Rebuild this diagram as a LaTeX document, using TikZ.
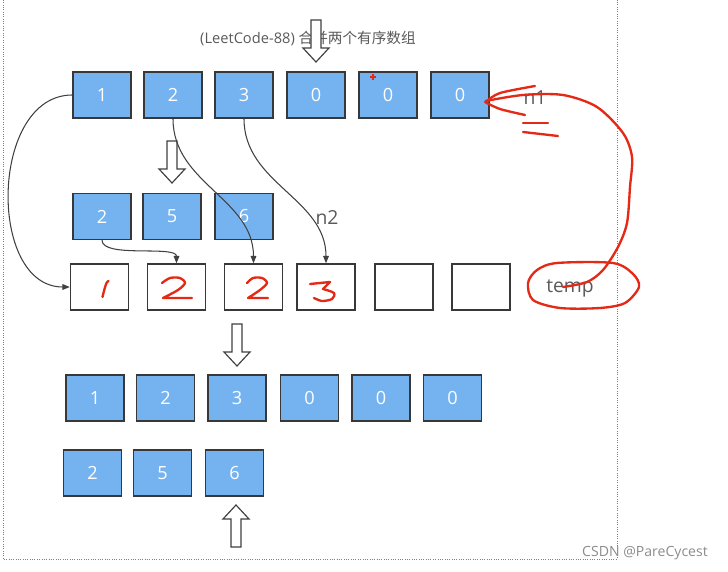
\documentclass[tikz,border=0pt]{standalone}
\usepackage{fontspec}
\setmainfont{Open Sans}
\newfontfamily\cjk{Noto Sans CJK SC}
\usetikzlibrary{arrows.meta}
\definecolor{cellblue}{RGB}{117,179,240}
\definecolor{inkred}{RGB}{228,42,22}
\definecolor{labelgray}{RGB}{90,90,90}

\begin{document}
\begin{tikzpicture}[
  x=0.03cm, y=-0.03cm,
  every node/.style={font=\fontsize{15.5}{17}\selectfont},
  cell/.style={
    draw=black!78,
    line width=1.2pt,
    fill=cellblue,
    text=white,
    minimum width=1.74cm,
    minimum height=1.38cm,
    inner sep=0pt
  },
  slot/.style={
    draw=black!78,
    line width=1.2pt,
    fill=white,
    minimum width=1.74cm,
    minimum height=1.38cm,
    inner sep=0pt
  },
  tag/.style={text=labelgray, font=\fontsize{16.5}{18}\selectfont, inner sep=0pt},
  arrow/.style={-{Triangle[length=2.2mm,width=1.7mm]}, line width=0.9pt, draw=black!75},
  ink/.style={draw=inkred, line width=2pt, line cap=round, line join=round},
  frame/.style={draw=black!50, line width=0.8pt, dash pattern=on 0.8pt off 1.2pt},
  hollow/.pic={
    \draw[draw=black!75, fill=white, line width=1pt]
      (-5,-21) -- (5,-21) -- (5,7) -- (13,7) -- (0,21) -- (-13,7) -- (-5,7) -- cycle;
  }
]
\useasboundingbox (0,0) rectangle (728,572);
\draw[frame] (3,0) -- (3,559) -- (617,559) -- (617,0);

\node[text=labelgray, font=\fontsize{12.5}{14}\selectfont] (title) at (308,38)
  {(LeetCode-88) {\cjk 合并两个有序数组}};

\foreach \x/\v [count=\i] in {102/1,173/2,244/3,316/0,388/0,460/0}
  \node[cell] (top\i) at (\x,95) {\v};
\foreach \x/\v [count=\i] in {102/2,172/5,244/6}
  \node[cell] (mid\i) at (\x,216.5) {\v};
\foreach \x [count=\i] in {99.5,176.5,253.5,326,404,481}
  \node[slot] (tmp\i) at (\x,287) {};
\foreach \x/\v [count=\i] in {95/1,165.5/2,237/3,309.5/0,381/0,452.5/0}
  \node[cell] (res\i) at (\x,398) {\v};
\foreach \x/\v [count=\i] in {92.5/2,162.5/5,234.5/6}
  \node[cell] (rem\i) at (\x,473) {\v};

\node[tag] (n1) at (535,98) {n1};
\node[tag] (n2) at (327,218) {n2};
\node[tag] (temp) at (570,288) {temp};
\node[text=black!45, font=\fontsize{12}{14}\selectfont] (mark) at (645,553) {CSDN @PareCycest};

\pic at (316,41) {hollow};
\pic at (172,162) {hollow};
\pic at (237,345) {hollow};
\pic[rotate=180] at (236,526) {hollow};

\draw[arrow] (top1.west) to[out=180,in=180,looseness=1.1] (tmp1.west);
\draw[arrow] (top2.south) to[out=-90,in=90] (tmp3.north);
\draw[arrow] (top3.south) to[out=-90,in=90] (tmp4.north);
\draw[arrow] (mid1.south) to[out=-90,in=90,looseness=0.6] (tmp2.north);

\begin{scope}[shift={(tmp1)}]
  \draw[ink] plot[smooth] coordinates {(9,-6) (7,-4) (5,2) (3,10)};
\end{scope}
\begin{scope}[shift={(tmp2)}]
  \draw[ink] plot[smooth] coordinates {(-14.5,-4) (-6.5,-9) (3.5,-9) (8.5,-4) (1.5,3) (-13.5,11)} -- (15.5,11);
\end{scope}
\begin{scope}[shift={(tmp3)}]
  \draw[ink] plot[smooth] coordinates {(-6.5,-4) (-0.5,-9) (8.5,-9) (13.5,-4) (6.5,3) (-5.5,11)} -- (14.5,11);
\end{scope}
\begin{scope}[shift={(tmp4)}]
  \draw[ink] (-16,-3) -- (4,-5) -- (-3,2);
  \draw[ink] plot[smooth] coordinates {(-3,2) (8,6) (6,12) (-4,14) (-12,11)};
\end{scope}

\draw[inkred, line width=1.2pt] (370,77) -- (376,77) (373,74) -- (373,80);
\draw[ink] plot[smooth] coordinates {(487,101) (500,93) (535,86)};
\draw[ink] plot[smooth] coordinates {(485,102) (500,109) (525,115)};
\draw[ink] plot[smooth] coordinates {([shift={(-4,6)}]top6.east) (523,95) (563,95) (597,107) (623,133) (632,157)
  (630,187) (627,223) (618,247) (603,270) (587,282) (563,287)};
\draw[ink] (523,123) -- (548,123);
\draw[ink] (523,132) -- (558,136);
\draw[ink] plot[smooth cycle] coordinates {(557,263) (613,263) (633,274) (639,287) (625,303) (600,308)
  (560,308) (533,300) (528,283) (537,270)};
\end{tikzpicture}
\end{document}
